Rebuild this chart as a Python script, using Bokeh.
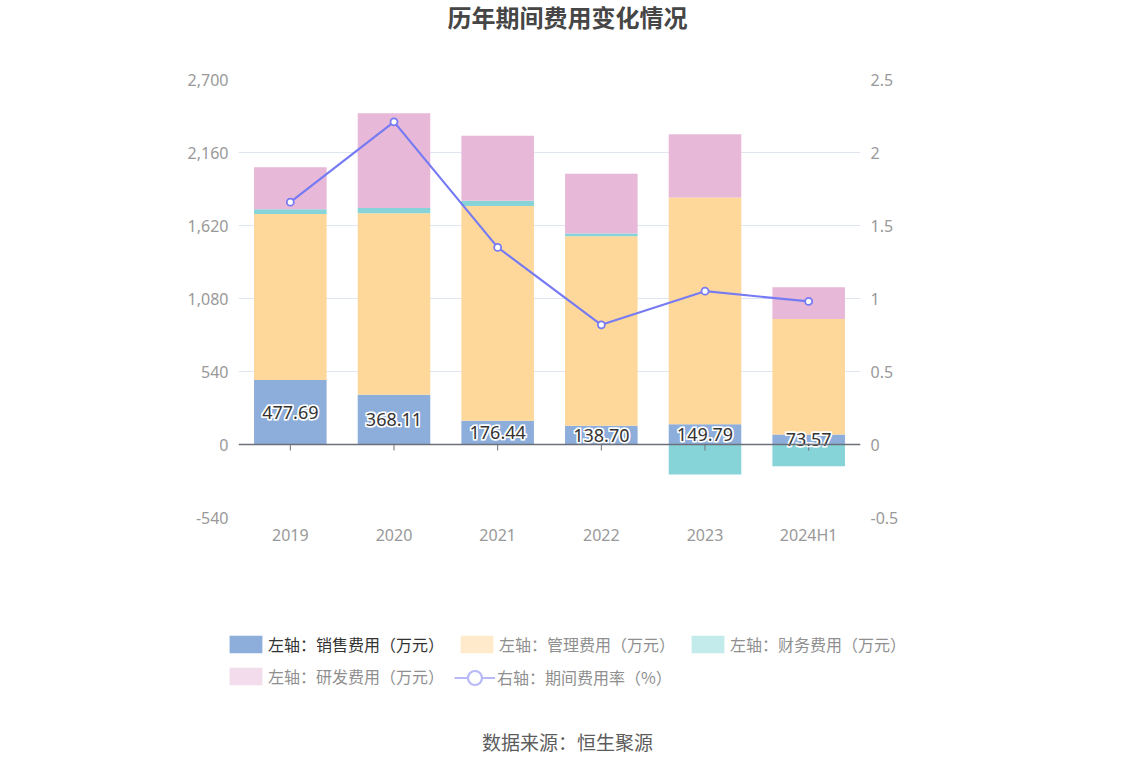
from bokeh.plotting import figure
from bokeh.layouts import column
from bokeh.models import (Range1d, LinearAxis, FixedTicker, NumeralTickFormatter,
                          CustomJSTickFormatter, Label, Legend, LegendItem, ColumnDataSource,
                          Span)
from bokeh.core.properties import value
from bokeh.embed import file_html
from bokeh.resources import INLINE

# ---- data ----
years = ["2019", "2020", "2021", "2022", "2023", "2024H1"]
sales = [477.69, 368.11, 176.44, 138.70, 149.79, 73.57]
mgmt = [1228, 1343, 1587, 1402, 1677, 855]
finance = [34, 39, 39, 20, -221, -160]
rnd = [312, 701, 482, 443, 469, 234]
rate = [1.66, 2.21, 1.35, 0.82, 1.05, 0.98]
left_ticks = [-540, 0, 540, 1080, 1620, 2160, 2700]
right_ticks = [-0.5, 0, 0.5, 1, 1.5, 2, 2.5]
legend_labels = ["左轴：销售费用（万元）", "左轴：管理费用（万元）", "左轴：财务费用（万元）",
                 "左轴：研发费用（万元）", "右轴：期间费用率（%）"]
title_text = "历年期间费用变化情况"
source_text = "数据来源：恒生聚源"

# ---- style ----
C_SALES = "#8DADDB"
C_MGMT = "#FED89B"
C_FIN = "#86D4D8"
C_RND = "#E7B8D8"
C_LINE = "#777BF3"
P_MGMT = "#FFEACB"
P_FIN = "#C3EBEC"
P_RND = "#F3DCEC"
P_LINE = "#B7B9F8"
CJK = "Noto Sans CJK SC"
NUM = "Noto Sans"
AX_COL = "#999999"
AX_SIZE = "16px"

W = 1118
H_TOP = 67
H_MAIN = 513
H_BOT = 180
FRAME_L, FRAME_R = 238, 860
BORDER_T, BORDER_B = 12, 63
FRAME_PX = H_MAIN - BORDER_T - BORDER_B


def no_align(fig):
    try:
        fig.frame_align = False
    except Exception:
        pass


fin_pos = [max(f, 0) for f in finance]
fin_neg = [min(f, 0) for f in finance]
tick_len = (left_ticks[-1] - left_ticks[0]) / FRAME_PX * 6
src = ColumnDataSource(dict(year=years, sales=sales, mgmt=mgmt, fin_pos=fin_pos, rnd=rnd,
                            fin_neg=fin_neg, rate=rate,
                            lab_y=[s / 2 for s in sales],
                            lab=[f"{s:.2f}" for s in sales],
                            tick_end=[-tick_len] * len(years)))

# ---- top area: title ----
t = figure(width=W, height=H_TOP, x_range=Range1d(0, W), y_range=Range1d(H_TOP, 0),
           output_backend="svg", toolbar_location=None, x_axis_type=None, y_axis_type=None,
           min_border=0)
t.outline_line_color = None
t.xgrid.visible = False
t.ygrid.visible = False
no_align(t)
t.add_layout(Label(x=567, y=16, text=title_text, text_align="center", text_baseline="middle",
                   text_font=CJK, text_font_size="24px", text_font_style="bold",
                   text_color="#464646"))

# ---- main chart ----
p = figure(x_range=years, y_range=Range1d(left_ticks[0], left_ticks[-1]), width=W, height=H_MAIN,
           output_backend="svg", toolbar_location=None,
           min_border_left=FRAME_L, min_border_right=W - FRAME_R,
           min_border_top=BORDER_T, min_border_bottom=BORDER_B)
p.outline_line_color = None
no_align(p)
p.extra_y_ranges = {"rate": Range1d(right_ticks[0], right_ticks[-1])}

p.xgrid.visible = False
p.ygrid.ticker = FixedTicker(ticks=left_ticks)
p.ygrid.grid_line_color = "#E0E6F1"

ya = p.yaxis[0]
ya.ticker = FixedTicker(ticks=left_ticks)
ya.formatter = NumeralTickFormatter(format="0,0")
ra = LinearAxis(y_range_name="rate", ticker=FixedTicker(ticks=right_ticks),
                formatter=CustomJSTickFormatter(code="return String(Math.round(tick*10)/10);"))
p.add_layout(ra, "right")
xa = p.xaxis[0]
for ax in (ya, ra, xa):
    ax.axis_line_color = None
    ax.major_tick_line_color = None
    ax.minor_tick_line_color = None
    ax.major_tick_out = 0
    ax.major_tick_in = 0
    ax.minor_tick_out = 0
    ax.major_label_text_color = AX_COL
    ax.major_label_text_font = NUM
    ax.major_label_text_font_size = AX_SIZE
ya.major_label_standoff = 10
ra.major_label_standoff = 10
xa.major_label_standoff = 6

stack = p.vbar_stack(["sales", "mgmt", "fin_pos", "rnd"], x="year", width=0.7,
                     color=[C_SALES, C_MGMT, C_FIN, C_RND], line_color=None, source=src)
p.vbar(x="year", top=0, bottom="fin_neg", width=0.7, color=C_FIN, line_color=None, source=src)

p.add_layout(Span(location=0, dimension="width", line_color="#6E7079", line_width=1.3))
p.segment(x0="year", y0=0, x1="year", y1="tick_end", source=src, line_color="#6E7079",
          line_width=1)

# value labels: white halo (offset copies) then dark text
for dx, dy in [(-1, -1), (1, -1), (-1, 1), (1, 1)]:
    p.text(x="year", y="lab_y", text="lab", source=src, text_align="center",
           text_baseline="middle", text_font=value(NUM), text_font_size="18px",
           text_color="white", text_outline_color="white", x_offset=dx, y_offset=dy)
p.text(x="year", y="lab_y", text="lab", source=src, text_align="center", text_baseline="middle",
       text_font=value(NUM), text_font_size="18px", text_color="#333333")

p.line(x="year", y="rate", y_range_name="rate", source=src, line_color=C_LINE, line_width=2.2)
p.scatter(x="year", y="rate", y_range_name="rate", source=src, marker="circle", size=7,
          fill_color="white", line_color=C_LINE, line_width=1.8)

# ---- bottom area: legend + source ----
q = figure(width=W, height=H_BOT, x_range=Range1d(0, W), y_range=Range1d(H_BOT, 0),
           output_backend="svg", toolbar_location=None, x_axis_type=None, y_axis_type=None,
           min_border=0)
q.outline_line_color = None
q.xgrid.visible = False
q.ygrid.visible = False
no_align(q)

# legend-only renderers, kept outside the visible area
OFF = -100
d_sales = q.vbar(x=[OFF], top=[OFF], width=1, color=C_SALES, line_color=None)
d_mgmt = q.vbar(x=[OFF], top=[OFF], width=1, color=P_MGMT, line_color=None)
d_fin = q.vbar(x=[OFF], top=[OFF], width=1, color=P_FIN, line_color=None)
d_rnd = q.vbar(x=[OFF], top=[OFF], width=1, color=P_RND, line_color=None)
d_line = q.line(x=[OFF, OFF + 1], y=[OFF, OFF], line_color=P_LINE, line_width=2.2)
d_pt = q.scatter(x=[OFF], y=[OFF], marker="circle", size=14, fill_color="white",
                 line_color=P_LINE, line_width=2.2)

GW = 41  # legend glyph box width (box icons are drawn inset by 10%)


def add_leg(renderers, label, color, icon_left, center_y, gh=22):
    bottom = center_y + gh / 2
    leg = Legend(items=[LegendItem(label=value(label), renderers=renderers)],
                 location=(icon_left - 4, H_BOT - (bottom - H_TOP - H_MAIN)),
                 orientation="horizontal", padding=0, margin=0, spacing=0,
                 border_line_color=None, background_fill_alpha=0,
                 glyph_width=GW, glyph_height=gh, label_height=gh, label_standoff=2,
                 label_text_font=CJK, label_text_font_size="16px", label_text_color=color,
                 label_text_baseline="middle")
    q.add_layout(leg, "center")


add_leg([d_sales], legend_labels[0], "#333333", 229, 645)
add_leg([d_mgmt], legend_labels[1], "#8F8F8F", 460, 645)
add_leg([d_fin], legend_labels[2], "#8F8F8F", 691, 645)
add_leg([d_rnd], legend_labels[3], "#8F8F8F", 229, 677)
add_leg([d_line, d_pt], legend_labels[4], "#8F8F8F", 458, 677, gh=35)

q.add_layout(Label(x=567, y=741 - H_TOP - H_MAIN, text=source_text, text_align="center",
                   text_baseline="middle", text_font=CJK, text_font_size="19px",
                   text_color="#5C5C5C"))

open("out.html", "w").write(file_html(column(t, p, q), INLINE))
